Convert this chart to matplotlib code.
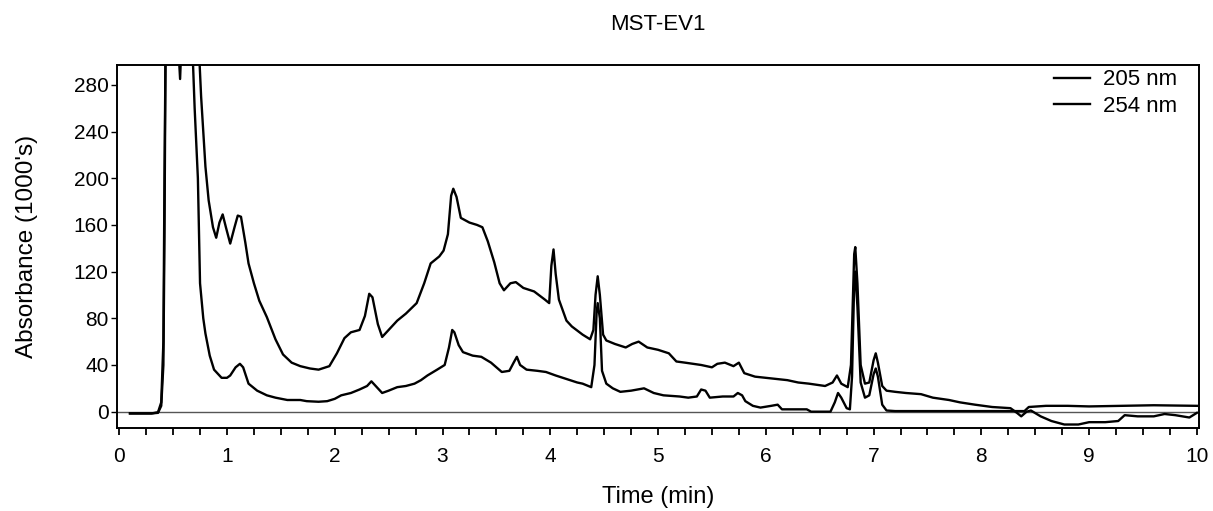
import numpy as np
import matplotlib
matplotlib.use("Agg")
import matplotlib.pyplot as plt
from matplotlib.ticker import MultipleLocator

plt.rcParams['font.family'] = ['Liberation Sans', 'DejaVu Sans']

# 205 nm trace (time in min, absorbance in 1000's)
t205 = [0.10, 0.30, 0.36, 0.39, 0.41, 0.42, 0.43, 0.55, 0.565, 0.575, 0.74, 0.76, 0.80, 0.83, 0.87,
        0.90, 0.93, 0.96, 0.99, 1.03, 1.07, 1.10, 1.13, 1.17, 1.20, 1.25, 1.30, 1.37, 1.45, 1.52,
        1.60, 1.68, 1.77, 1.85, 1.95, 2.02, 2.09, 2.15, 2.23, 2.28, 2.32, 2.35, 2.40, 2.44, 2.50,
        2.58, 2.66, 2.76, 2.83, 2.89, 2.97, 3.01, 3.05, 3.08, 3.10, 3.13, 3.17, 3.25, 3.32, 3.37,
        3.42, 3.48, 3.53, 3.57, 3.63, 3.68, 3.75, 3.85, 3.95, 3.99, 4.01, 4.03, 4.05, 4.08, 4.15,
        4.20, 4.30, 4.37, 4.40, 4.42, 4.44, 4.46, 4.49, 4.52, 4.60, 4.70, 4.76, 4.82, 4.90, 5.00,
        5.10, 5.17, 5.25, 5.40, 5.50, 5.55, 5.62, 5.70, 5.75, 5.80, 5.90, 6.00, 6.10, 6.20, 6.30,
        6.40, 6.55, 6.62, 6.66, 6.70, 6.76, 6.79, 6.82, 6.83, 6.85, 6.88, 6.92, 6.96, 7.00, 7.02,
        7.04, 7.08, 7.12, 7.20, 7.30, 7.44, 7.55, 7.70, 7.80, 7.94, 8.10, 8.27, 8.33, 8.37, 8.42,
        8.46, 8.55, 8.65, 8.77, 8.90, 9.00, 9.15, 9.27, 9.33, 9.45, 9.60, 9.70, 9.80, 9.93, 10.0]
a205 = [-1.5, -1.5, -1, 5, 40, 150, 310, 310, 285, 310, 310, 270, 210, 181, 158,
        149, 162, 169, 158, 144, 158, 168, 167, 145, 127, 110, 95, 81, 62, 49,
        42, 39, 37, 36, 39, 50, 63, 68, 70, 82, 101, 98, 75, 64, 70,
        78, 84, 93, 110, 127, 133, 138, 152, 185, 191, 184, 166, 162, 160, 158,
        146, 128, 110, 104, 110, 111, 106, 103, 96, 93, 125, 139, 118, 96, 78,
        73, 66, 62, 70, 100, 116, 100, 66, 61, 58, 55, 58, 60, 55, 53,
        50, 43, 42, 40, 38, 41, 42, 39, 42, 33, 30, 29, 28, 27, 25,
        24, 22, 25, 31, 24, 21, 40, 135, 141, 110, 40, 24, 25, 44, 50,
        42, 22, 18, 17, 16, 15, 12, 10, 8, 6, 4, 3, -1, -4, 0,
        1, -4, -8, -11, -11, -9, -9, -8, -3, -4, -4, -2, -3, -5, -1]

# 254 nm trace
t254 = [0.10, 0.30, 0.36, 0.39, 0.41, 0.42, 0.43, 0.68, 0.70, 0.73, 0.75, 0.78, 0.80, 0.84, 0.88,
        0.95, 1.00, 1.03, 1.08, 1.12, 1.15, 1.20, 1.28, 1.37, 1.45, 1.56, 1.68, 1.74, 1.85, 1.93,
        2.00, 2.06, 2.15, 2.23, 2.30, 2.34, 2.38, 2.44, 2.50, 2.58, 2.66, 2.74, 2.80, 2.86, 2.95,
        3.02, 3.06, 3.09, 3.11, 3.15, 3.19, 3.28, 3.36, 3.45, 3.55, 3.62, 3.66, 3.69, 3.72, 3.78,
        3.88, 3.96, 4.05, 4.15, 4.25, 4.30, 4.38, 4.41, 4.43, 4.44, 4.46, 4.48, 4.52, 4.58, 4.65,
        4.75, 4.87, 4.96, 5.05, 5.20, 5.28, 5.36, 5.40, 5.44, 5.48, 5.60, 5.70, 5.74, 5.78, 5.81,
        5.88, 5.95, 6.05, 6.11, 6.15, 6.30, 6.38, 6.42, 6.60, 6.64, 6.67, 6.70, 6.75, 6.78, 6.80,
        6.82, 6.83, 6.85, 6.88, 6.92, 6.96, 7.00, 7.02, 7.04, 7.08, 7.12, 7.20, 7.50, 8.00, 8.40,
        8.44, 8.60, 8.80, 9.00, 9.30, 9.60, 10.0]
a254 = [-1.5, -1.5, -0.5, 8, 60, 200, 310, 310, 260, 200, 110, 80, 67, 48, 36,
        29, 29, 31, 38, 41, 38, 24, 18, 14, 12, 10, 10, 9, 8.5, 9,
        11, 14, 16, 19, 22, 26, 22, 16, 18, 21, 22, 24, 27, 31, 36,
        40, 55, 70, 68, 57, 51, 48, 47, 42, 34, 35, 42, 47, 40, 36,
        35, 34, 31, 28, 25, 24, 21, 40, 85, 93, 80, 35, 24, 20, 17,
        18, 20, 16, 14, 13, 12, 13, 19, 18, 12, 13, 13, 16, 14, 9,
        5, 3.5, 5, 6, 2, 2, 2, 0, 0, 8, 16, 12, 3, 2, 30,
        110, 120, 90, 25, 12, 14, 32, 37, 30, 6, 1, 0.5, 0.5, 0.5, 0.5,
        4, 5, 5, 4.5, 5, 5.5, 5]

xticks = [0, 1, 2, 3, 4, 5, 6, 7, 8, 9, 10]
yticks = [0, 40, 80, 120, 160, 200, 240, 280]

fig = plt.figure(figsize=(12.13, 5.11), dpi=100)
ax = fig.add_axes([0.0965, 0.1624, 0.892, 0.7104])

ax.axhline(0, color='#555555', lw=1.0, zorder=1)
ax.plot(t205, a205, color='black', lw=1.7, label='205 nm', zorder=3)
ax.plot(t254, a254, color='black', lw=1.7, label='254 nm', zorder=3)

ax.set_xlim(-0.02, 10.02)
ax.set_ylim(-14, 297)
ax.set_xticks(xticks)
ax.xaxis.set_minor_locator(MultipleLocator(0.25))
ax.set_yticks(yticks)
ax.tick_params(axis='x', which='both', direction='out', length=5, width=1.3, labelsize=15, pad=9)
ax.tick_params(axis='y', direction='out', length=4, width=1, labelsize=15, pad=2)
for s in ax.spines.values():
    s.set_linewidth(1.4)

ax.set_xlabel('Time (min)', fontsize=17, labelpad=14)
ax.set_ylabel("Absorbance (1000's)", fontsize=17.5, labelpad=26)
ax.set_title('MST-EV1', fontsize=16, pad=25)

leg = ax.legend(loc='upper right', bbox_to_anchor=(0.984, 1.0), frameon=False, fontsize=16,
                handlelength=1.6, handletextpad=0.6, labelspacing=0.25,
                borderaxespad=0.0, borderpad=0.2)

fig.savefig('out.png', dpi=100)
